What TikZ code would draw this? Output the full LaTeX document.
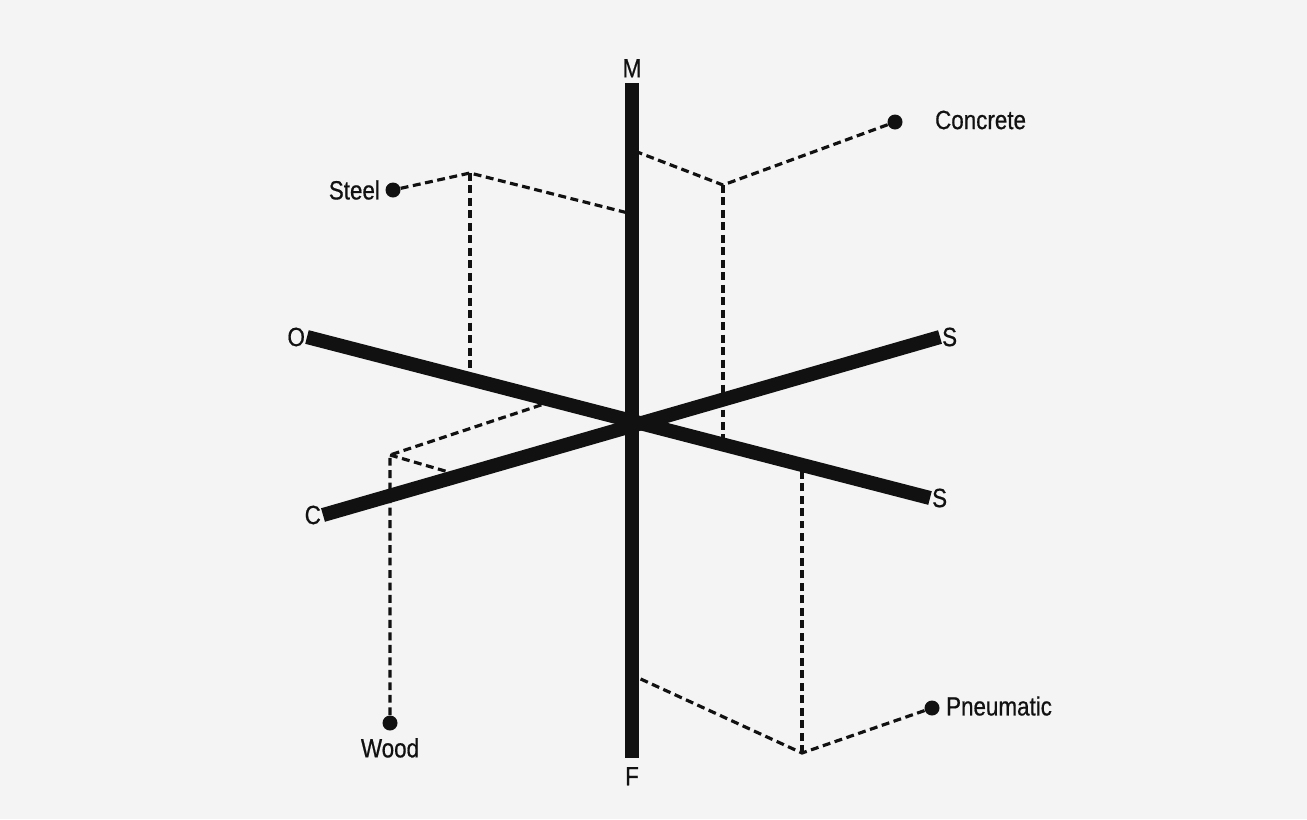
\documentclass[tikz,border=0pt]{standalone}
\usepackage{fontspec}
\setmainfont{Liberation Sans}[FakeStretch=0.85,FakeBold=0.6]
\usepackage{xcolor}
\usetikzlibrary{arrows.meta,positioning}
\definecolor{paper}{HTML}{F4F4F4}
\definecolor{ink}{HTML}{111111}
\tikzset{
	axisbar/.style={draw=ink, line width=8pt, line cap=butt},
	proj/.style={draw=ink, line width=1.8pt, dash pattern=on 4.5pt off 2.6pt},
	dot/.style={circle, fill=ink, inner sep=0pt, minimum size=0.3cm},
	lbl/.style={font=\fontsize{15}{17}\selectfont, text=ink, inner sep=1pt},
	axl/.style={lbl, font=\fontsize{15}{17}\selectfont},
}

\begin{document}
\begin{tikzpicture}[x=0.02cm, y=-0.02cm, >=latex]
				\fill[paper] (0,0) rectangle (1307,819);
				\useasboundingbox (0,0) rectangle (1307,819);
				\coordinate (mtop) at (632,83);
				\coordinate (fbot) at (632,758);
				\coordinate (otip) at (307,337);
				\coordinate (slow) at (930,498);
				\coordinate (ctip) at (323,515);
				\coordinate (shigh) at (940,337);
				\coordinate (stc) at (470,173);
				\coordinate (stm) at (632,214);
				\coordinate (sto) at (470,379);
				\coordinate (coc) at (723,185);
				\coordinate (com) at (632,150);
				\coordinate (cos) at (723,445);
				\coordinate (woc) at (390,455);
				\coordinate (woo) at (553,401);
				\coordinate (woa) at (452,473);
				\coordinate (pnc) at (802,753);
				\coordinate (pnm) at (632,675);
				\coordinate (pns) at (802,465);
				\node[dot] at (393,190) (steel) {};
				\node[dot] at (895,122) (concrete) {};
				\node[dot] at (390,723) (wood) {};
				\node[dot] at (932,708) (pneu) {};
				\node[lbl, anchor=east] at (382,190) (steellbl) {Steel};
				\node[lbl, anchor=west] at (933,120) (concretelbl) {Concrete};
				\node[lbl, below=3pt of wood] (woodlbl) {Wood};
				\node[lbl, anchor=west] at (944,706) (pneulbl) {Pneumatic};
				\draw[proj] (steel) -- (stc) -- (stm);
				\draw[proj] (stc) -- (sto);
				\draw[proj] (concrete) -- (coc) -- (com);
				\draw[proj] (coc) -- (cos);
				\draw[proj] (wood) -- (woc) -- (woo);
				\draw[proj] (woc) -- (woa);
				\draw[proj] (pneu) -- (pnc) -- (pnm);
				\draw[proj] (pnc) -- (pns);
				\draw[axisbar] (otip) -- (slow);
				\draw[axisbar] (ctip) -- (shigh);
				\draw[axisbar] (mtop) -- (fbot);
				\node[axl, above=2pt of mtop] (mlbl) {M};
				\node[axl, below=4pt of fbot] (flbl) {F};
				\node[axl, left=0pt of otip] (olbl) {O};
				\node[axl, left=0pt of ctip] (clbl) {C};
				\node[axl, right=0pt of shigh] (shlbl) {S};
				\node[axl, right=0pt of slow] (sllbl) {S};
			\end{tikzpicture}
\end{document}
